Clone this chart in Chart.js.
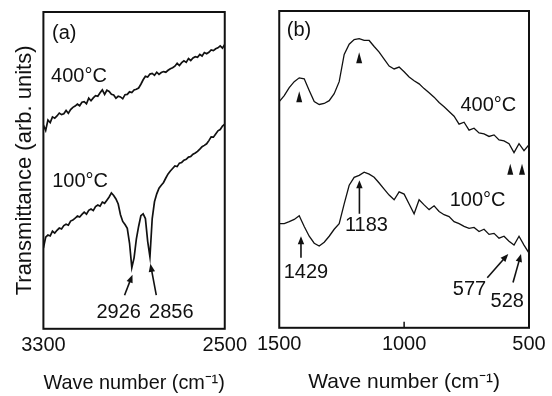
<!DOCTYPE html>
<html><head><meta charset="utf-8">
<script src="https://cdn.jsdelivr.net/npm/chart.js@4.4.1/dist/chart.umd.min.js"></script>
<style>
html,body{margin:0;padding:0;background:#fff;}
#wrap{position:relative;width:552px;height:396px;background:#fff;}
#boxA{position:absolute;left:0;top:0;width:252px;height:396px;}
#boxB{position:absolute;left:252px;top:0;width:300px;height:396px;}
</style></head><body>
<div id="wrap"><div id="boxA"><canvas id="cA"></canvas></div><div id="boxB"><canvas id="cB"></canvas></div></div>
<script>
// ---------- Panel (a): wave numbers (cm-1) ----------
const wnA = [3300,3290,3280,3270,3260,3250,3240,3230,3220,3210,
 3200,3190,3180,3170,3160,3150,3140,3130,3120,3110,
 3100,3090,3080,3070,3060,3050,3040,3030,3020,3010,
 3000,2990,2980,2970,2960,2950,2940,2930,2920,2910,
 2900,2890,2880,2870,2860,2850,2840,2830,2820,2810,
 2800,2790,2780,2770,2760,2750,2740,2730,2720,2710,
 2700,2690,2680,2670,2660,2650,2640,2630,2620,2610,
 2600,2590,2580,2570,2560,2550,2540,2530,2520,2510,
 2500];
// transmittance (arb. units), 400 °C
const tA400 = [64.3,62.6,65.9,65.1,66.9,66.5,67.2,68.1,67.6,67.9,
 68.9,68.0,69.2,69.9,70.3,70.9,70.4,71.5,71.7,71.0,
 72.8,72.0,72.9,73.6,73.4,74.5,75.4,74.0,75.3,74.9,
 74.0,73.8,72.8,73.4,73.2,72.6,73.9,74.0,74.8,74.6,
 75.4,75.6,76.0,77.2,78.6,79.7,79.5,80.4,80.6,80.0,
 81.0,80.3,80.9,81.2,81.0,81.6,82.1,82.4,82.9,83.8,
 83.1,84.0,84.6,84.1,85.3,84.7,85.5,85.9,85.7,86.6,
 86.1,87.2,86.8,87.3,88.0,87.8,88.4,88.7,89.3,88.6,
 89.8];
// transmittance (arb. units), 100 °C
const tA100 = [25.5,28.9,29.6,29.3,30.8,30.2,31.1,31.8,31.5,32.6,
 33.0,32.7,34.0,34.3,34.9,35.6,35.3,36.1,36.8,36.2,
 37.4,37.8,37.3,38.6,39.1,38.7,40.0,39.6,40.6,41.6,
 42.9,42.1,41.0,39.4,36.0,33.9,32.9,31.7,27.0,19.3,
 22.4,28.3,32.3,35.7,36.3,34.8,27.6,22.7,34.8,40.1,
 42.6,44.4,45.3,46.2,47.6,48.9,49.8,50.6,51.4,51.2,
 52.3,52.5,53.2,53.5,54.2,54.4,55.1,55.5,56.0,56.7,
 57.5,57.9,58.4,59.4,60.6,60.5,61.5,62.5,62.9,64.0,
 64.6];
const ticksA = [3300, 2500];

// ---------- Panel (b) ----------
const wnB = [1500,1480,1460,1440,1420,1400,1380,1360,1340,1320,
 1300,1280,1260,1240,1220,1200,1180,1160,1140,1120,
 1100,1080,1060,1040,1020,1000,980,960,940,920,
 900,880,860,840,820,800,780,760,740,720,
 700,680,660,640,620,600,580,560,540,520,
 500];
const tB400 = [71.4,73.3,75.8,77.7,78.9,78.6,74.9,71.4,70.5,70.8,
 71.7,73.9,77.7,86.3,89.5,91.0,91.3,90.7,90.7,88.8,
 87.0,84.8,82.6,81.7,82.3,80.8,79.2,78.0,77.0,75.5,
 74.2,72.8,71.1,69.8,68.3,66.8,64.3,64.9,62.4,63.0,
 61.5,61.2,60.4,60.9,59.3,59.0,58.1,55.3,58.1,55.9,
 57.8];
const tB100 = [32.9,32.9,33.5,34.2,35.4,32.0,28.9,26.7,25.8,27.0,
 28.9,31.1,32.9,39.1,45.0,47.5,48.1,49.1,48.5,47.5,
 45.7,43.8,41.9,40.4,42.9,42.2,39.1,36.0,40.4,38.8,
 37.3,38.5,36.7,35.7,35.1,33.5,32.9,32.0,31.4,31.7,
 30.4,31.1,29.5,29.8,28.3,28.9,27.3,26.1,28.9,26.1,
 23.6];
const ticksB = [1500, 1000, 500];

// ---------- annotations (data coordinates) ----------
const noteTextA = ['(a)', '400°C', '100°C', '2926', '2856'];
const noteXA = [3208, 3143, 3138, 2968, 2736];
const noteYA = [93.2, 79.5, 46.6, 5.0, 5.0];
const arrowFromXA = [2942, 2802], arrowFromYA = [10.6, 10.6];
const arrowToXA = [2907, 2828], arrowToYA = [17.1, 20.5];

const noteTextB = ['(b)', '400°C', '100°C', '1183', '1429', '577', '528'];
const noteXB = [1421, 663, 706, 1151, 1393, 738, 587];
const noteYB = [93.8, 70.2, 40.1, 32.3, 17.4, 12.1, 8.4];
const arrowFromXB = [1179, 1413, 667, 564], arrowFromYB = [36.0, 22.1, 15.8, 14.3];
const arrowToXB = [1179, 1413, 583, 532], arrowToYB = [46.6, 28.9, 23.3, 23.3];
const markXB = [1420, 1180, 575, 528];
const markYB = [72.8, 85.1, 49.9, 49.9];

const F = "'Liberation Sans', Arial, Helvetica, sans-serif";
const INK = '#111';

function pts(xs, ys){ return xs.map((x,i)=>({x:x, y:ys[i]})); }

function makeNotes(n){
  return {
    id:'notes',
    afterDatasetsDraw(chart){
      const {ctx, chartArea:a, scales:{x, y}} = chart;
      ctx.save();
      ctx.strokeStyle = INK; ctx.fillStyle = INK;
      ctx.lineWidth = 2;
      ctx.strokeRect(a.left, a.top, a.right - a.left, a.bottom - a.top);
      ctx.lineWidth = 1.5;
      (n.inner||[]).forEach(v=>{
        const px = x.getPixelForValue(v);
        ctx.beginPath(); ctx.moveTo(px, a.bottom); ctx.lineTo(px, a.bottom - 6); ctx.stroke();
      });
      (n.mx||[]).forEach((v,i)=>{
        const px = x.getPixelForValue(v), py = y.getPixelForValue(n.my[i]);
        ctx.beginPath(); ctx.moveTo(px, py - 6); ctx.lineTo(px + 3, py + 5); ctx.lineTo(px - 3, py + 5); ctx.closePath(); ctx.fill();
      });
      ctx.lineWidth = 1.6;
      n.ax1.forEach((v,i)=>{
        const x1 = x.getPixelForValue(v), y1 = y.getPixelForValue(n.ay1[i]);
        const x2 = x.getPixelForValue(n.ax2[i]), y2 = y.getPixelForValue(n.ay2[i]);
        const ang = Math.atan2(y2 - y1, x2 - x1), L = 8, W = 3.2;
        ctx.beginPath(); ctx.moveTo(x1, y1); ctx.lineTo(x2 - Math.cos(ang)*L*0.6, y2 - Math.sin(ang)*L*0.6); ctx.stroke();
        ctx.beginPath(); ctx.moveTo(x2, y2);
        ctx.lineTo(x2 - L*Math.cos(ang) + W*Math.sin(ang), y2 - L*Math.sin(ang) - W*Math.cos(ang));
        ctx.lineTo(x2 - L*Math.cos(ang) - W*Math.sin(ang), y2 - L*Math.sin(ang) + W*Math.cos(ang));
        ctx.closePath(); ctx.fill();
      });
      ctx.font = '20px ' + F; ctx.textAlign = 'center'; ctx.textBaseline = 'middle';
      n.t.forEach((s,i)=>{ ctx.fillText(s, x.getPixelForValue(n.tx[i]), y.getPixelForValue(n.ty[i])); });
      ctx.restore();
    }
  };
}

function xScale(mn, mx, tks){
  return {
    type:'linear', reverse:true, min:mn, max:mx,
    afterBuildTicks: s => { s.ticks = tks.map(v=>({value:v})); },
    ticks:{autoSkip:false, maxRotation:0, padding:5, color:INK, font:{size:20, family:F}, callback:v=>String(v)},
    grid:{display:false, drawTicks:false}, border:{display:false},
    title:{display:true, text:'Wave number (cm⁻¹)', color:INK, font:{size:21, family:F}, padding:{top:8, bottom:0}}
  };
}

function lineDs(data, w){
  return {data:data, borderColor:INK, borderWidth:w, pointRadius:0, fill:false, tension:0};
}

new Chart(document.getElementById('cA'), {
  type:'line',
  data:{datasets:[lineDs(pts(wnA, tA400), 1.7), lineDs(pts(wnA, tA100), 1.7)]},
  options:{
    responsive:true, maintainAspectRatio:false, animation:false,
    layout:{padding:{left:8, top:12, right:26, bottom:0}},
    plugins:{legend:{display:false}, tooltip:{enabled:false}},
    scales:{
      x: xScale(2500, 3300, ticksA),
      y: {min:0, max:100, display:true, ticks:{display:false}, grid:{display:false, drawTicks:false}, border:{display:false},
          title:{display:true, text:'Transmittance (arb. units)', color:INK, font:{size:22, family:F}, padding:{top:4, bottom:5}}}
    }
  },
  plugins:[makeNotes({t:noteTextA, tx:noteXA, ty:noteYA, ax1:arrowFromXA, ay1:arrowFromYA, ax2:arrowToXA, ay2:arrowToYA})]
});

new Chart(document.getElementById('cB'), {
  type:'line',
  data:{datasets:[lineDs(pts(wnB, tB400), 1.3), lineDs(pts(wnB, tB100), 1.3)]},
  options:{
    responsive:true, maintainAspectRatio:false, animation:false,
    layout:{padding:{left:25, top:11, right:23, bottom:1}},
    plugins:{legend:{display:false}, tooltip:{enabled:false}},
    scales:{
      x: xScale(500, 1500, ticksB),
      y: {min:0, max:100, display:false}
    }
  },
  plugins:[makeNotes({t:noteTextB, tx:noteXB, ty:noteYB, ax1:arrowFromXB, ay1:arrowFromYB, ax2:arrowToXB, ay2:arrowToYB, mx:markXB, my:markYB, inner:[1000]})]
});
</script>
</body></html>
